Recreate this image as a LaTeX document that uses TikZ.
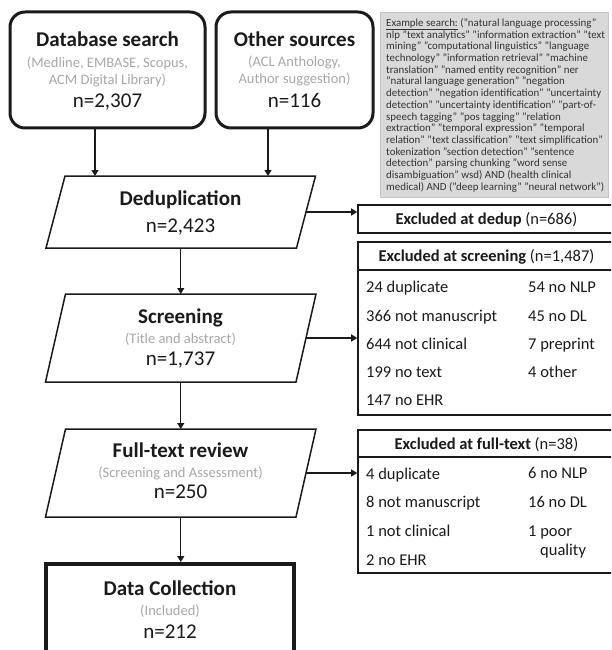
\documentclass[tikz,border=0pt]{standalone}
\usepackage{fontspec}
\setmainfont{Carlito}
\usetikzlibrary{arrows.meta}
\definecolor{subgray}{HTML}{A8A8A8}
\definecolor{notefill}{HTML}{D9D9D9}
\definecolor{notedraw}{HTML}{C4C4C4}
\definecolor{notetext}{HTML}{333333}
\definecolor{ink}{HTML}{1A1A1A}
\newcommand\myTitle{\fontsize{21}{25}\selectfont\bfseries}
\newcommand\mySub{\fontsize{14.5}{17}\selectfont}
\newcommand\myNum{\fontsize{21}{25}\selectfont}
\newcommand\myItem{\fontsize{16.5}{20}\selectfont}
\newcommand\myNote{\fontsize{10.9}{11.7}\selectfont}
\begin{document}
\begin{tikzpicture}[x=1pt,y=-1pt,color=ink,
  src/.style={draw, line width=3pt, rounded corners=15pt, inner sep=0pt},
  paraarea/.style={inner sep=0pt, outer sep=0pt, minimum width=250.5pt},
  paraline/.style={line width=1.5pt, line join=miter},
  exbox/.style={draw, line width=1.6pt, inner sep=0pt, minimum width=257pt},
  arr/.style={line width=1.3pt, -{Triangle[width=7pt,length=6pt]}},
  txt/.style={anchor=base, inner sep=0pt},
  ttl/.style={txt, font=\myTitle},
  sub/.style={txt, font=\mySub, text=subgray},
  num/.style={txt, font=\myNum},
  hdr/.style={txt, font=\myItem},
  itm/.style={anchor=base west, inner sep=0pt, font=\myItem},
  note/.style={anchor=base west, inner sep=0pt, font=\myNote, text=notetext}]
\useasboundingbox (0,0) rectangle (611,650);
\clip (0,0) rectangle (611,650);

% source boxes
\node[src, minimum width=195pt, minimum height=116pt] (db) at (107.5,70) {};
\node[ttl] (dbT) at (107.5,47) {Database search};
\node[sub] (dbS1) at (107.5,68) {(Medline, EMBASE, Scopus,};
\node[sub] (dbS2) at (107.5,85) {ACM Digital Library)};
\node[num] (dbN) at (107.5,108) {n=2,307};

\node[src, minimum width=157pt, minimum height=116pt] (os) at (294.5,70) {};
\node[ttl] (osT) at (294.5,47) {Other sources};
\node[sub] (osS1) at (294.5,67) {(ACL Anthology,};
\node[sub] (osS2) at (294.5,84) {Author suggestion)};
\node[num] (osN) at (294.5,108) {n=116};

% search note
\node[draw=notedraw, fill=notefill, line width=0.8pt, minimum width=228pt,
  minimum height=185pt, inner sep=0pt] (notebox) at (494,104.5) {};
\foreach \t [count=\i] in {
  {\underline{Example search:} ("natural language processing"},
  {nlp "text analytics" "information extraction" "text},
  {mining" "computational linguistics" "language},
  {technology" "information retrieval" "machine},
  {translation" "named entity recognition" ner},
  {"natural language generation" "negation},
  {detection" "negation identification" "uncertainty},
  {detection" "uncertainty identification" "part-of-},
  {speech tagging" "pos tagging" "relation},
  {extraction" "temporal expression" "temporal},
  {relation" "text classification" "text simplification"},
  {tokenization "section detection" "sentence},
  {detection" parsing chunking "word sense},
  {disambiguation" wsd) AND (health clinical},
  {medical) AND ("deep learning" "neural network")}}
  \node[note] (nl\i) at (386,{26.5+11.7*(\i-1)}) {\t};

% process parallelograms (node = mid-band area, outline slanted)
\node[paraarea, minimum height=72pt] (dedup) at (180.75,212) {};
\draw[paraline] ([xshift=9.5pt]dedup.north west) -- ([xshift=9.5pt]dedup.north east)
  -- ([xshift=-9.5pt]dedup.south east) -- ([xshift=-9.5pt]dedup.south west) -- cycle;
\node[ttl] (dedupT) at (180.5,205) {Deduplication};
\node[num] (dedupN) at (180.5,232) {n=2,423};

\node[paraarea, minimum height=88pt] (screen) at (180.75,338) {};
\draw[paraline] ([xshift=10pt]screen.north west) -- ([xshift=10pt]screen.north east)
  -- ([xshift=-10pt]screen.south east) -- ([xshift=-10pt]screen.south west) -- cycle;
\node[ttl] (screenT) at (180.5,323) {Screening};
\node[sub] (screenS) at (180.5,343) {(Title and abstract)};
\node[num] (screenN) at (180.5,365) {n=1,737};

\node[paraarea, minimum height=88pt] (ft) at (180.75,473) {};
\draw[paraline] ([xshift=10pt]ft.north west) -- ([xshift=10pt]ft.north east)
  -- ([xshift=-10pt]ft.south east) -- ([xshift=-10pt]ft.south west) -- cycle;
\node[ttl] (ftT) at (180.5,457) {Full-text review};
\node[sub] (ftS) at (180.5,477) {(Screening and Assessment)};
\node[num] (ftN) at (180.5,498) {n=250};

\node[draw, line width=4pt, inner sep=0pt, minimum width=248pt, minimum height=94pt] (dc) at (170,611) {};
\node[ttl] (dcT) at (170,595) {Data Collection};
\node[sub] (dcS) at (170,615) {(Included)};
\node[num] (dcN) at (170,638) {n=212};

% exclusion boxes
\node[exbox, minimum height=28pt] (exd) at (486.5,219) {};
\node[hdr] (exdT) at (486.5,224) {\textbf{Excluded at dedup} (n=686)};

\node[exbox, minimum height=173pt] (exs) at (486.5,328.5) {};
\node[hdr] (exsT) at (486.5,261) {\textbf{Excluded at screening} (n=1,487)};
\draw[line width=1.6pt] (exs.west |- 0,270) -- (exs.east |- 0,270);
\node[itm] (s1) at (366,292) {24 duplicate};
\node[itm] (s2) at (366,321) {366 not manuscript};
\node[itm] (s3) at (366,349) {644 not clinical};
\node[itm] (s4) at (366,377) {199 no text};
\node[itm] (s5) at (366,405) {147 no EHR};
\node[itm] (s6) at (528,292) {54 no NLP};
\node[itm] (s7) at (528,321) {45 no DL};
\node[itm] (s8) at (528,349) {7 preprint};
\node[itm] (s9) at (528,377) {4 other};

\node[exbox, minimum height=143pt] (exf) at (486.5,501.5) {};
\node[hdr] (exfT) at (486.5,449) {\textbf{Excluded at full-text} (n=38)};
\draw[line width=1.6pt] (exf.west |- 0,457) -- (exf.east |- 0,457);
\node[itm] (f1) at (366,479) {4 duplicate};
\node[itm] (f2) at (366,507) {8 not manuscript};
\node[itm] (f3) at (366,536) {1 not clinical};
\node[itm] (f4) at (366,565) {2 no EHR};
\node[itm] (f5) at (528,478) {6 no NLP};
\node[itm] (f6) at (528,507) {16 no DL};
\node[itm] (f7) at (528,536) {1 poor};
\node[itm] (f8) at (540,555) {quality};

% connectors
\coordinate (dbout) at ([xshift=-12.5pt]db.south);
\coordinate (osout) at ([xshift=-26.5pt]os.south);
\draw[arr] (dbout) -- (dbout |- dedup.north);
\draw[arr] (osout) -- (osout |- dedup.north);
\draw[arr] (dedup.south) -- (screen.north);
\draw[arr] (screen.south) -- (ft.north);
\draw[arr] (ft.south) -- (ft.south |- dc.north);
\draw[arr] (dedup.east) -- (dedup.east -| exd.west);
\draw[arr] (screen.east) -- (screen.east -| exs.west);
\draw[arr] (ft.east) -- (ft.east -| exf.west);
\end{tikzpicture}
\end{document}
